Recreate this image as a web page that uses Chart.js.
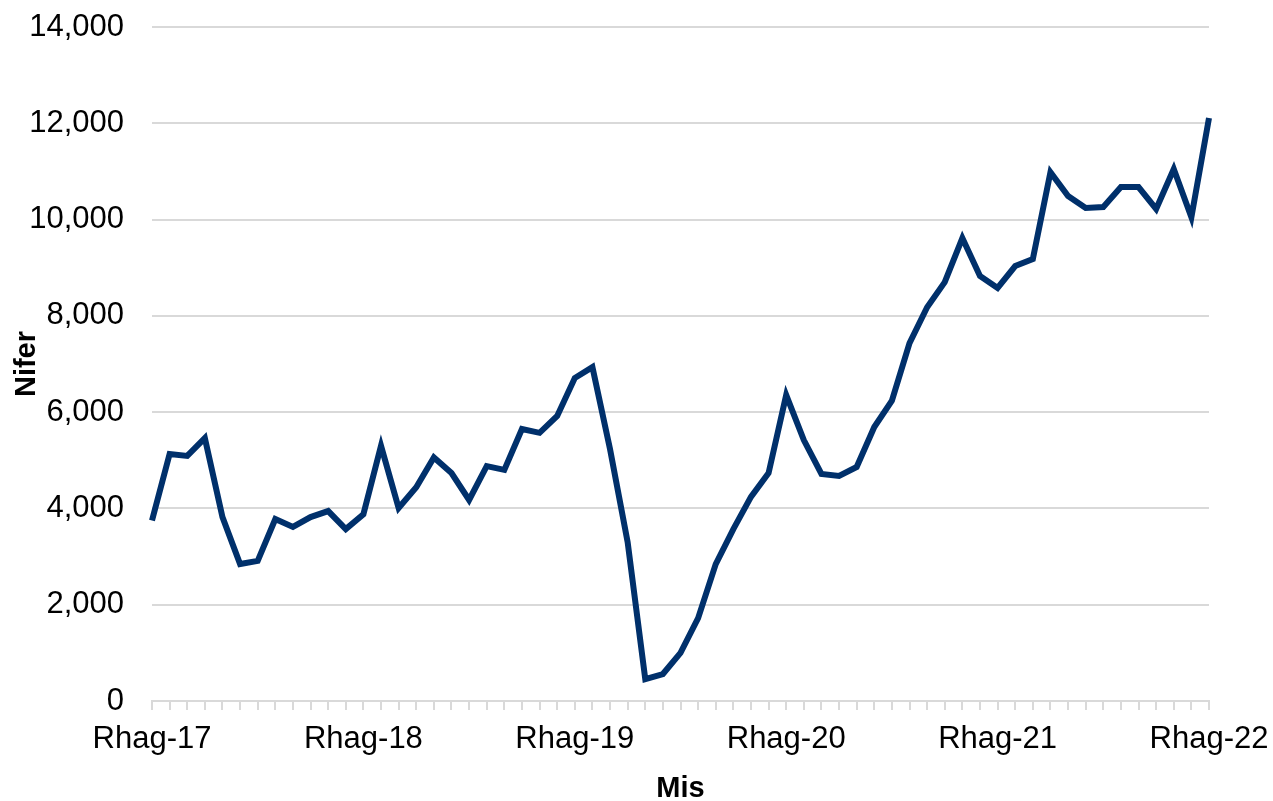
<!DOCTYPE html>
<html>
<head>
<meta charset="utf-8">
<script src="https://cdn.jsdelivr.net/npm/chart.js@4/dist/chart.umd.min.js"></script>
<style>
  html, body { margin: 0; padding: 0; background: #ffffff; }
  #wrap { width: 1273px; height: 801px; position: relative; }
</style>
</head>
<body>
<div id="wrap"><canvas id="c" width="1273" height="801"></canvas></div>
<script>
// Month names (Welsh) and years for the monthly categories, Dec 2017 – Dec 2022
const monthNames = ["Ion", "Chwef", "Maw", "Ebr", "Mai", "Meh", "Gorff", "Awst", "Medi", "Hyd", "Tach", "Rhag"];
const years = ["17", "18", "19", "20", "21", "22"];

// Monthly counts (Nifer)
const nifer = [
  3750, 5130, 5090, 5460, 3820, 2845, 2910, 3780, 3615, 3820, 3945, 3570,
  3880, 5300, 4010, 4440, 5060, 4735, 4175, 4880, 4800, 5650, 5570, 5920,
  6710, 6935, 5230, 3300, 455, 560, 1000, 1720, 2845, 3570, 4240, 4735,
  6355, 5420, 4715, 4675, 4860, 5690, 6240, 7435, 8180, 8700, 9615, 8830,
  8580, 9035, 9180, 10985, 10490, 10240, 10260, 10675, 10675, 10220, 11050, 10050,
  12110
];

const yTicks = [0, 2000, 4000, 6000, 8000, 10000, 12000, 14000];

// Build category labels: "Rhag-17", "Ion-18", ...
const categories = ["Rhag-" + years[0]];
for (let y = 1; y < years.length; y++) {
  for (let m = 0; m < 12; m++) {
    categories.push(monthNames[m] + "-" + years[y]);
  }
}

const FONT = "'Liberation Sans', Arial, sans-serif";
const GRID = "#d9d9d9";

new Chart(document.getElementById("c"), {
  type: "line",
  data: {
    labels: categories,
    datasets: [{
      label: "Nifer",
      data: nifer,
      borderColor: "#00306b",
      backgroundColor: "#00306b",
      borderWidth: 6,
      pointRadius: 0,
      tension: 0,
      fill: false
    }]
  },
  options: {
    responsive: false,
    animation: false,
    devicePixelRatio: 1,
    layout: { padding: { top: 27, right: 64, left: 0, bottom: 0 } },
    plugins: {
      legend: { display: false },
      tooltip: { enabled: false }
    },
    scales: {
      x: {
        type: "category",
        offset: false,
        grid: {
          drawOnChartArea: false,
          drawTicks: true,
          tickLength: 9,
          color: GRID,
          lineWidth: 2
        },
        border: { display: true, color: GRID, width: 2 },
        ticks: {
          autoSkip: false,
          maxRotation: 0,
          minRotation: 0,
          padding: 11,
          color: "#000000",
          font: { family: FONT, size: 31 },
          callback: function (val, idx) {
            return idx % 12 === 0 ? categories[idx] : "";
          }
        },
        title: {
          display: true,
          text: "Mis",
          color: "#000000",
          font: { family: FONT, size: 29, weight: "bold", lineHeight: 1 },
          padding: { top: 0, bottom: -2 }
        },
        afterFit: function (scale) {
          scale.height = 100;
          scale.paddingLeft = 0;
          scale.paddingRight = 0;
        }
      },
      y: {
        min: 0,
        max: 14000,
        afterBuildTicks: function (scale) {
          scale.ticks = yTicks.map(v => ({ value: v }));
        },
        grid: {
          drawTicks: false,
          color: GRID,
          lineWidth: 2
        },
        border: { display: false },
        ticks: {
          padding: 28,
          color: "#000000",
          font: { family: FONT, size: 31 },
          callback: function (v) { return v.toLocaleString("en-US"); }
        },
        title: {
          display: true,
          text: "Nifer",
          color: "#000000",
          font: { family: FONT, size: 29, weight: "bold", lineHeight: 1.2 },
          padding: { top: 10, bottom: 0 }
        },
        afterFit: function (scale) {
          scale.width = 152;
          scale.paddingTop = 0;
          scale.paddingBottom = 0;
        }
      }
    }
  }
});
</script>
</body>
</html>
